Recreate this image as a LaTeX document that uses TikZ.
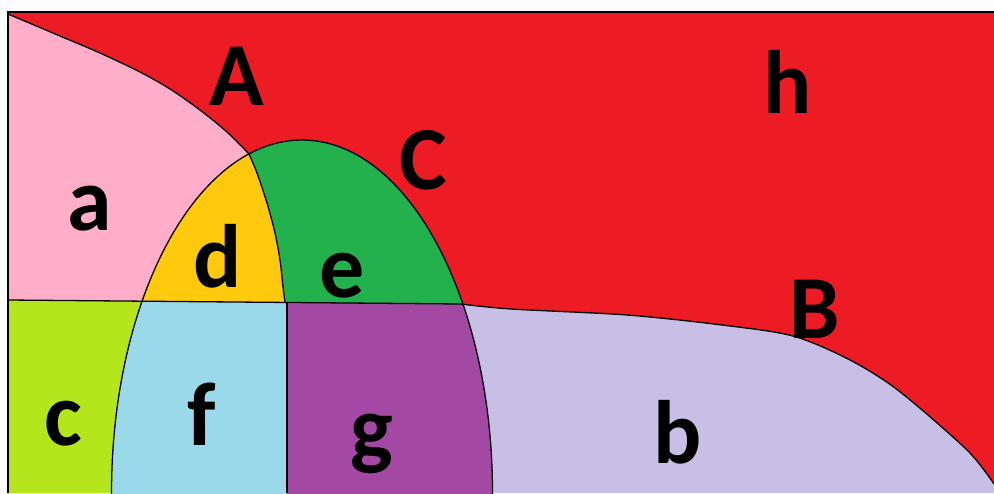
\documentclass[tikz,border=0pt]{standalone}
\usepackage{fontspec}
\setmainfont{Carlito}
\definecolor{hred}{HTML}{ED1C24}
\definecolor{apink}{HTML}{FFAEC9}
\definecolor{dyel}{HTML}{FFC90E}
\definecolor{egreen}{HTML}{22B14C}
\definecolor{clime}{HTML}{B5E61D}
\definecolor{fblue}{HTML}{99D9EA}
\definecolor{gpurp}{HTML}{A349A4}
\definecolor{blav}{HTML}{C8BFE7}
\begin{document}
\begin{tikzpicture}[x=1pt,y=-1pt,
  lbl/.style={font=\fontsize{90}{90}\selectfont\bfseries, inner sep=0pt, anchor=base},
  edge/.style={line width=1.3pt, black}]
\useasboundingbox (0,0) rectangle (994,493);
\clip (0,0) rectangle (994,493);
\fill[white] (0,0) rectangle (994,493);
% background h
\fill[hred] (8,12) rectangle (994,493);
% a
\fill[apink] plot[smooth] coordinates {(8,14) (60,36) (100,53) (140,72) (170,89) (200,110) (227,132) (249,154)} -- plot[smooth] coordinates {(249,154) (257,173) (267,203) (275,233) (280,260) (283,287) (285,302.4)} -- (8,300) -- cycle;
% b
\fill[blav] (8,300) -- (461,304) -- plot[smooth] coordinates {(461,304) (511,309) (627,315) (722,325) (793,336) (850,360) (899,391) (967,450) (994,484)} -- (994,493) -- (8,493) -- cycle;
% c
\fill[clime] (8,300) -- (300,302.6) -- (300,493) -- (8,493) -- cycle;
% inside ellipse
\begin{scope}
  \clip (302,493) ellipse [x radius=190.5, y radius=353];
  \fill[egreen] (8,100) -- (500,100) -- (500,304.3) -- (8,300) -- cycle;
  \fill[dyel] plot[smooth] coordinates {(8,14) (60,36) (100,53) (140,72) (170,89) (200,110) (227,132) (249,154)} -- plot[smooth] coordinates {(249,154) (257,173) (267,203) (275,233) (280,260) (283,287) (285,302.4)} -- (8,300) -- cycle;
  \fill[gpurp] (8,300) -- (500,304.3) -- (500,500) -- (8,500) -- cycle;
  \fill[fblue] (8,300) -- (287,302.5) -- (287,500) -- (8,500) -- cycle;
\end{scope}
% lines
\draw[edge] plot[smooth] coordinates {(8,14) (60,36) (100,53) (140,72) (170,89) (200,110) (227,132) (249,154)};
\draw[edge] plot[smooth] coordinates {(249,154) (257,173) (267,203) (275,233) (280,260) (283,287) (285,302.4)};
\draw[edge] (302,493) ellipse [x radius=190.5, y radius=353];
\draw[edge] (8,300) -- (461,304) -- plot[smooth] coordinates {(461,304) (511,309) (627,315) (722,325) (793,336) (850,360) (899,391) (967,450) (994,484)};
\draw[edge] (287,302.5) -- (287,493);
\draw[edge] (994,12) -- (8,12) -- (8,493);
% labels
\node[lbl] (lA) at (237,105) {A};
\node[lbl] (lh) at (788,113) {h};
\node[lbl] (lC) at (423,189) {C};
\node[lbl] (ld) at (218,287) {d};
\node[lbl] (le) at (342,297) {e};
\node[lbl] (la) at (90,230) {a};
\node[lbl] (lc) at (63,445) {c};
\node[lbl] (lf) at (202,445) {f};
\node[lbl] (lg) at (372,458) {g};
\node[lbl] (lb) at (678,463) {b};
\node[lbl] (lB) at (815,338) {B};
\end{tikzpicture}
\end{document}
